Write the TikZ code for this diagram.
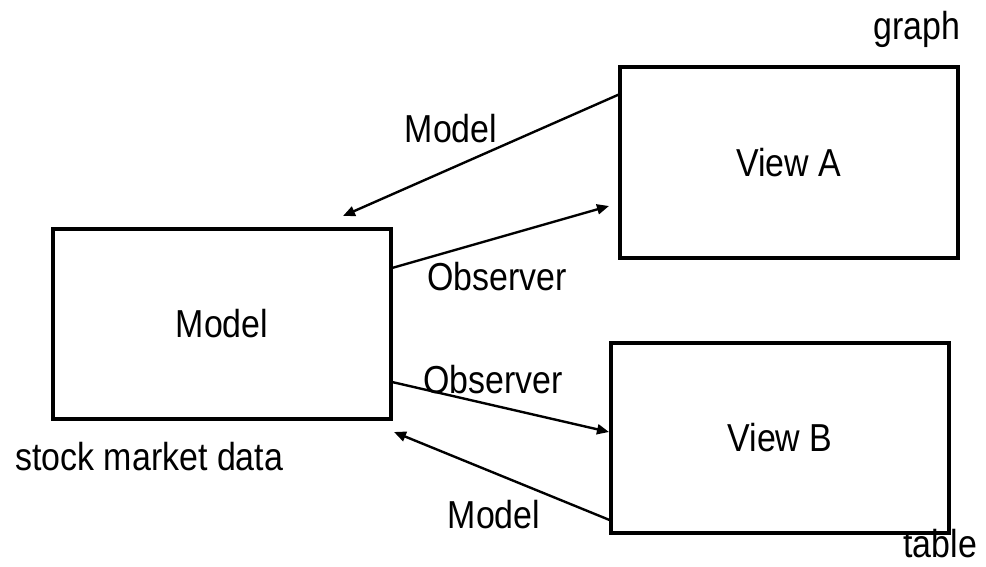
\documentclass[tikz,border=0pt]{standalone}
\usepackage{fontspec}
\setmainfont[FakeStretch=0.87]{Liberation Sans}
\usetikzlibrary{arrows.meta}
\begin{document}
\begin{tikzpicture}[x=0.5pt,y=-0.5pt,
  font=\fontsize{19.5}{22}\selectfont,
  box/.style={draw,line width=2pt,inner sep=0pt,minimum width=169pt,minimum height=95pt},
  conn/.style={line width=1.2pt,-{Triangle[length=6pt,width=5pt]}},
  lbl/.style={anchor=base,inner sep=0pt}]
\useasboundingbox (0,0) rectangle (986,567);
% boxes
\node[box] (model) at (222,323.5) {Model};
\node[box] (viewA) at (788.5,162.5) {View A};
\node[box] (viewB) at (780,438) {View B};
% free ends and start points of the connectors
\coordinate (aOut) at (620,94);
\coordinate (aIn)  at (343,216);
\coordinate (mOutA) at (392,268);
\coordinate (aObs) at (609,206);
\coordinate (mOutB) at (392,382);
\coordinate (bObs) at (609,432);
\coordinate (bOut) at (612,521);
\coordinate (bIn)  at (394,432);
% connectors
\draw[conn] (aOut) -- (aIn);
\draw[conn] (mOutA) -- (aObs);
\draw[conn] (mOutB) -- (bObs);
\draw[conn] (bOut) -- (bIn);
% labels
\node[lbl] (lModelA) at (451,143) {Model};
\node[lbl] (lObsA) at (497,290) {Observer};
\node[lbl] (lObsB) at (493,393) {Observer};
\node[lbl] (lModelB) at (494,528) {Model};
\node[lbl] (lGraph) at (917,40) {graph};
\node[lbl,anchor=base west] (lTable) at (903,557) {table};
\node[lbl,anchor=base west] (lData) at (15,470) {stock market data};
\end{tikzpicture}
\end{document}
